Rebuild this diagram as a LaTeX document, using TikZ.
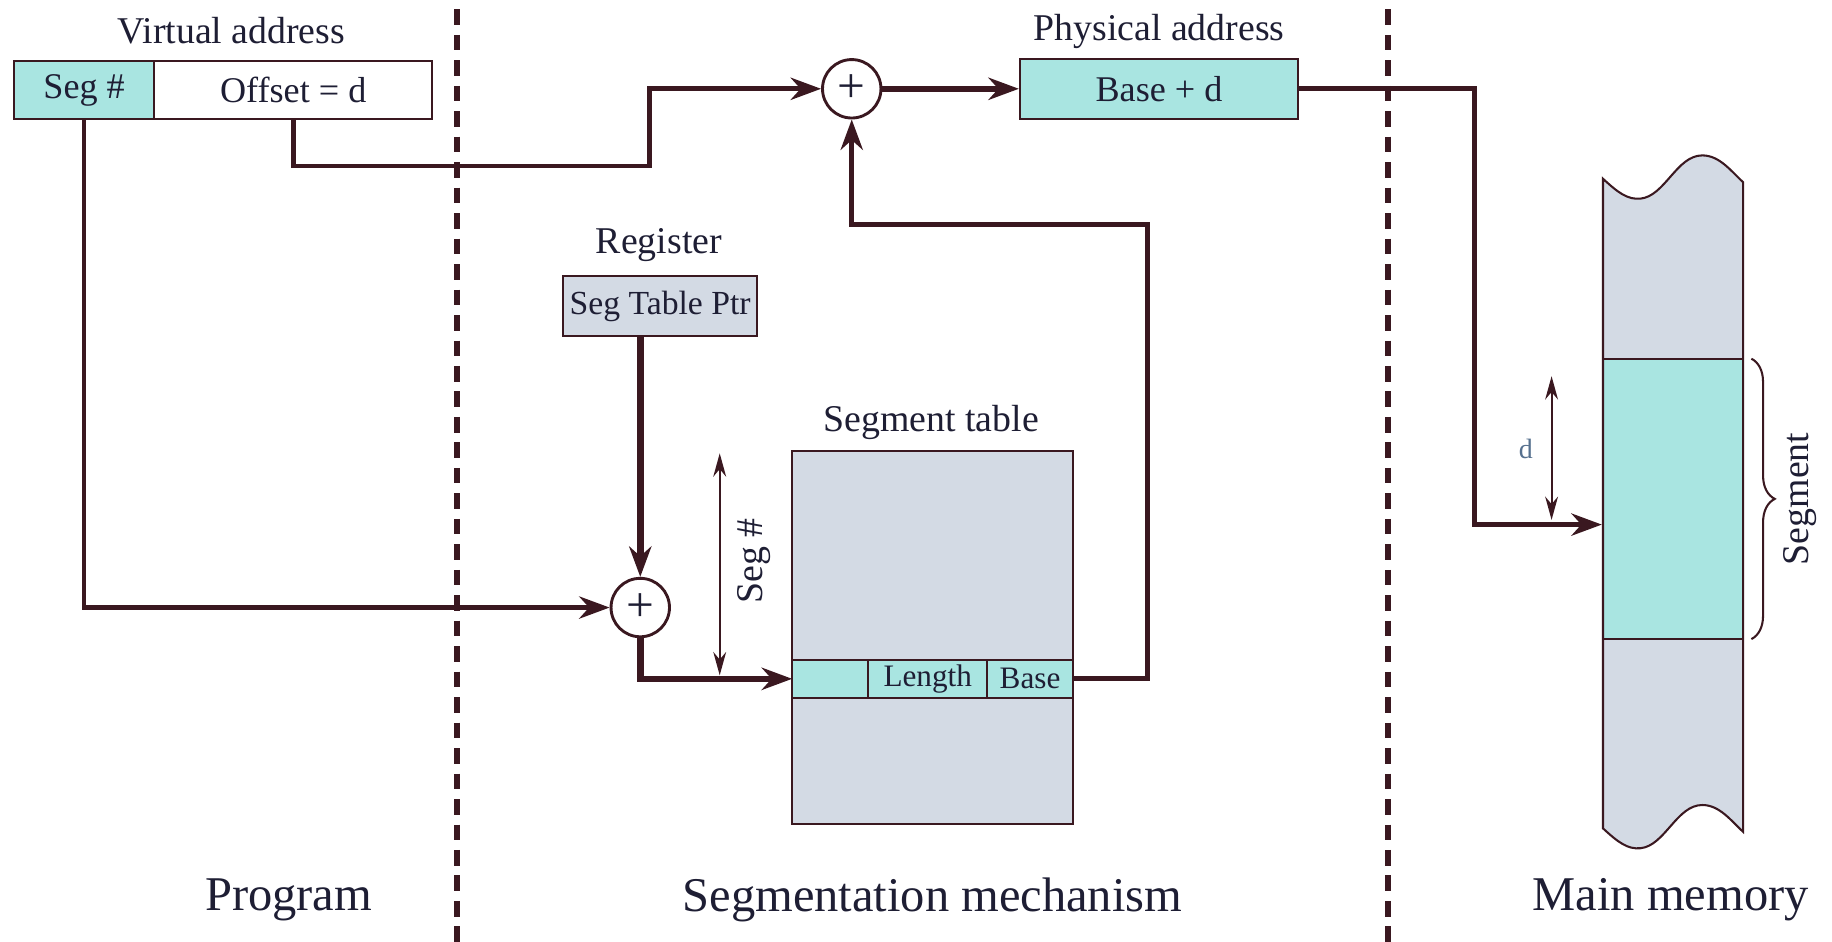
\documentclass[tikz,border=0pt]{standalone}
\usepackage{fontspec}
\setmainfont{Liberation Serif}
\usetikzlibrary{arrows.meta,decorations.pathreplacing}

\definecolor{segcyan}{HTML}{A9E5E1}
\definecolor{memgray}{HTML}{D3DAE4}
\definecolor{wire}{HTML}{3A1820}
\definecolor{ink}{HTML}{1E1E34}
\definecolor{dimink}{HTML}{56708E}

\newcommand\titlefont{\fontsize{9.2}{11}\selectfont}
\newcommand\boxfont{\fontsize{8.8}{10}\selectfont}
\newcommand\rowfont{\fontsize{7.6}{9}\selectfont}
\newcommand\regionfont{\fontsize{11.8}{14}\selectfont}

\begin{document}
\begin{tikzpicture}[x=0.01cm,y=-0.01cm,
  box/.style={draw=wire,line width=0.5pt,minimum height=0.5cm,inner sep=0pt,
              font=\boxfont,text=ink},
  rowcell/.style={box,fill=segcyan,minimum height=0.32cm,anchor=west,outer sep=0pt,
                  font=\rowfont},
  adder/.style={circle,draw=wire,line width=0.7pt,fill=white,minimum size=0.5cm,
                inner sep=0pt,font=\fontsize{12}{12}\selectfont,text=ink},
  heading/.style={font=\titlefont,text=ink},
  region/.style={font=\regionfont,text=ink},
  wireline/.style={draw=wire,line width=1.15pt},
  busline/.style={draw=wire,line width=1.6pt},
  divider/.style={draw=wire,line width=1.4pt,dash pattern=on 3.8pt off 2.4pt},
  dimline/.style={draw=wire,line width=0.45pt,
                  {Stealth[length=2mm,width=1.1mm]}-{Stealth[length=2mm,width=1.1mm]}},
  >={Stealth[length=2.6mm,width=1.9mm]},
]
\useasboundingbox (0,0) rectangle (1568,806);

% Region dividers
\draw[divider] (391,8) -- (391,806);
\draw[divider] (1188,8) -- (1188,806);

% Virtual address
\node[heading] (vaddr) at (198,26) {Virtual address};
\node[box,fill=segcyan,minimum width=1.2cm] (segno) at (72,77) {Seg \#};
\node[box,fill=white,minimum width=2.38cm] (offset) at (251,77) {Offset = d};

% Adders
\node[adder] (sum1) at (729,76) {+};
\node[adder] (sum2) at (548,520) {+};

% Physical address
\node[heading] (paddr) at (992,27) {Physical address};
\node[box,fill=segcyan,minimum width=2.38cm,minimum height=0.51cm] (phys) at (992,76) {Base + d};

% Register
\node[heading] (reg) at (564,210) {Register};
\node[box,fill=memgray,minimum width=1.66cm,minimum height=0.51cm,
      font=\fontsize{8.2}{10}\selectfont] (ptr) at (565,262) {Seg Table Ptr};

% Segment table
\node[heading] (tabname) at (797,362) {Segment table};
\node[box,fill=memgray,minimum width=2.4cm,minimum height=3.19cm] (segtab) at (798,545.5) {};
\node[rowcell,minimum width=0.65cm] (entry) at (678,581) {};
\node[rowcell,minimum width=1.02cm] (len) at (entry.east) {Length};
\node[rowcell,minimum width=0.73cm] (base) at (len.east) {Base};

% Seg # extent
\draw[dimline] (616,388) -- (616,578);
\node[heading,rotate=90] (segext) at (645,480) {Seg \#};

% Main memory column
\fill[memgray] (1372,153) .. controls (1385,165) and (1393,171) .. (1404,170)
  .. controls (1425,168) and (1435,133) .. (1457,133)
  .. controls (1472,133) and (1482,147) .. (1492,156)
  -- (1492,307) -- (1372,307) -- cycle;
\fill[segcyan] (1372,307) rectangle (1492,547);
\fill[memgray] (1372,547) -- (1492,547) -- (1492,712)
  .. controls (1482,703) and (1472,689) .. (1457,689)
  .. controls (1435,689) and (1425,724) .. (1404,726)
  .. controls (1393,727) and (1385,721) .. (1372,709) -- cycle;
\draw[wire,line width=0.5pt] (1372,153) .. controls (1385,165) and (1393,171) .. (1404,170)
  .. controls (1425,168) and (1435,133) .. (1457,133)
  .. controls (1472,133) and (1482,147) .. (1492,156)
  -- (1492,712)
  .. controls (1482,703) and (1472,689) .. (1457,689)
  .. controls (1435,689) and (1425,724) .. (1404,726)
  .. controls (1393,727) and (1385,721) .. (1372,709) -- cycle;
\draw[wire,line width=0.5pt] (1372,307) -- (1492,307);
\draw[wire,line width=0.5pt] (1372,547) -- (1492,547);

% Segment brace and offset
\draw[wire,line width=0.5pt,decorate,decoration={brace,amplitude=0.2cm}]
  (1499,307) -- (1499,547);
\node[heading,rotate=90] (segname) at (1541,427) {Segment};
\draw[dimline] (1328,322) -- (1328,445);
\node[font=\fontsize{6.8}{8}\selectfont,text=dimink] (dlabel) at (1306,384) {d};

% Connectors
\coordinate (bendA) at (556,142);
\coordinate (bendB) at (982,192);
\coordinate (bendC) at (1262,449);
\coordinate (memin) at (1371,449);
\draw[wireline,->] (offset.south) |- (bendA) |- (sum1.west);
\draw[wireline,->] (segno.south) |- (sum2.west);
\draw[busline,->] (sum1.east) -- (phys.west);
\draw[busline,->] (ptr.south -| sum2.north) -- (sum2.north);
\draw[busline,->] (sum2.south) |- (entry.west);
\draw[wireline,->] (base.east) -| (bendB) -| (sum1.south);
\draw[wireline,->] (phys.east) -| (bendC) -- (memin);

% Region names
\node[region] (prog) at (247,770) {Program};
\node[region] (mech) at (798,770) {Segmentation mechanism};
\node[region] (mainmem) at (1430,770) {Main memory};

\end{tikzpicture}
\end{document}
